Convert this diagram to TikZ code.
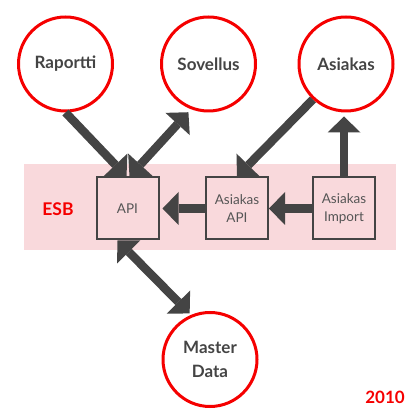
\documentclass[tikz,border=0pt]{standalone}
\usepackage{fontspec}
\setmainfont{Lato}
\usetikzlibrary{positioning,arrows.meta}
\definecolor{esbred}{HTML}{F50000}
\definecolor{esbpink}{HTML}{F9D9DC}
\definecolor{dgray}{HTML}{444444}
\definecolor{tgray}{HTML}{555555}

\begin{document}
\begin{tikzpicture}[x=1pt,y=1pt,>={Triangle[width=33pt,length=16pt,line width=0pt]},
  sys/.style={circle,draw=esbred,line width=3pt,minimum size=94pt,inner sep=0pt,
    text=dgray,align=center,font=\fontsize{17}{24}\selectfont\bfseries},
  svc/.style={rectangle,draw=dgray,line width=2pt,minimum width=62pt,minimum height=62pt,
    inner sep=0pt,text=tgray,align=center,font=\fontsize{13.5}{18}\selectfont},
  flow/.style={draw=dgray,line width=8.5pt}]
\useasboundingbox (0,0) rectangle (420,420);
% ESB band
\node (bus) [fill=esbpink,minimum width=372pt,minimum height=86pt,inner sep=0pt] at (210,213) {};
\node (esb) [text=esbred,font=\fontsize{17.5}{20}\selectfont\bfseries] at (58,210.5) {ESB};
% systems
\node (rap) [sys] at (65.5,356) {Raportti};
\node (sov) [sys] at (208.5,356) {Sovellus};
\node (asi) [sys] at (346,356) {Asiakas};
\node (md) [sys] at (210,60.5) {Master\\Data};
% services on the bus
\node (api) [svc] at (127.5,211.5) {API};
\node (asapi) [svc] at (237,211.5) {Asiakas\\API};
\node (imp) [svc] at (344,211.5) {Asiakas\\Import};
\node (year) [text=esbred,font=\fontsize{17}{20}\selectfont\bfseries] at (385,23) {2010};
% flows
\draw[flow,->] (rap.south) -- ([xshift=-1pt]api.north);
\draw[flow,<->,shorten >=4pt] ([xshift=2pt]api.north) -- (sov.249);
\draw[flow,->] (asi.227) -- (asapi.north);
\draw[flow,->,shorten >=4pt] (imp.north) -- (imp.north |- asi.south);
\draw[flow,->] (imp.west) -- (asapi.east);
\draw[flow,->,shorten >=3pt] (asapi.west) -- (api.east);
\draw[flow,<->,shorten >=2pt] ([xshift=-10pt]api.south) -- (md.113);
\end{tikzpicture}
\end{document}
